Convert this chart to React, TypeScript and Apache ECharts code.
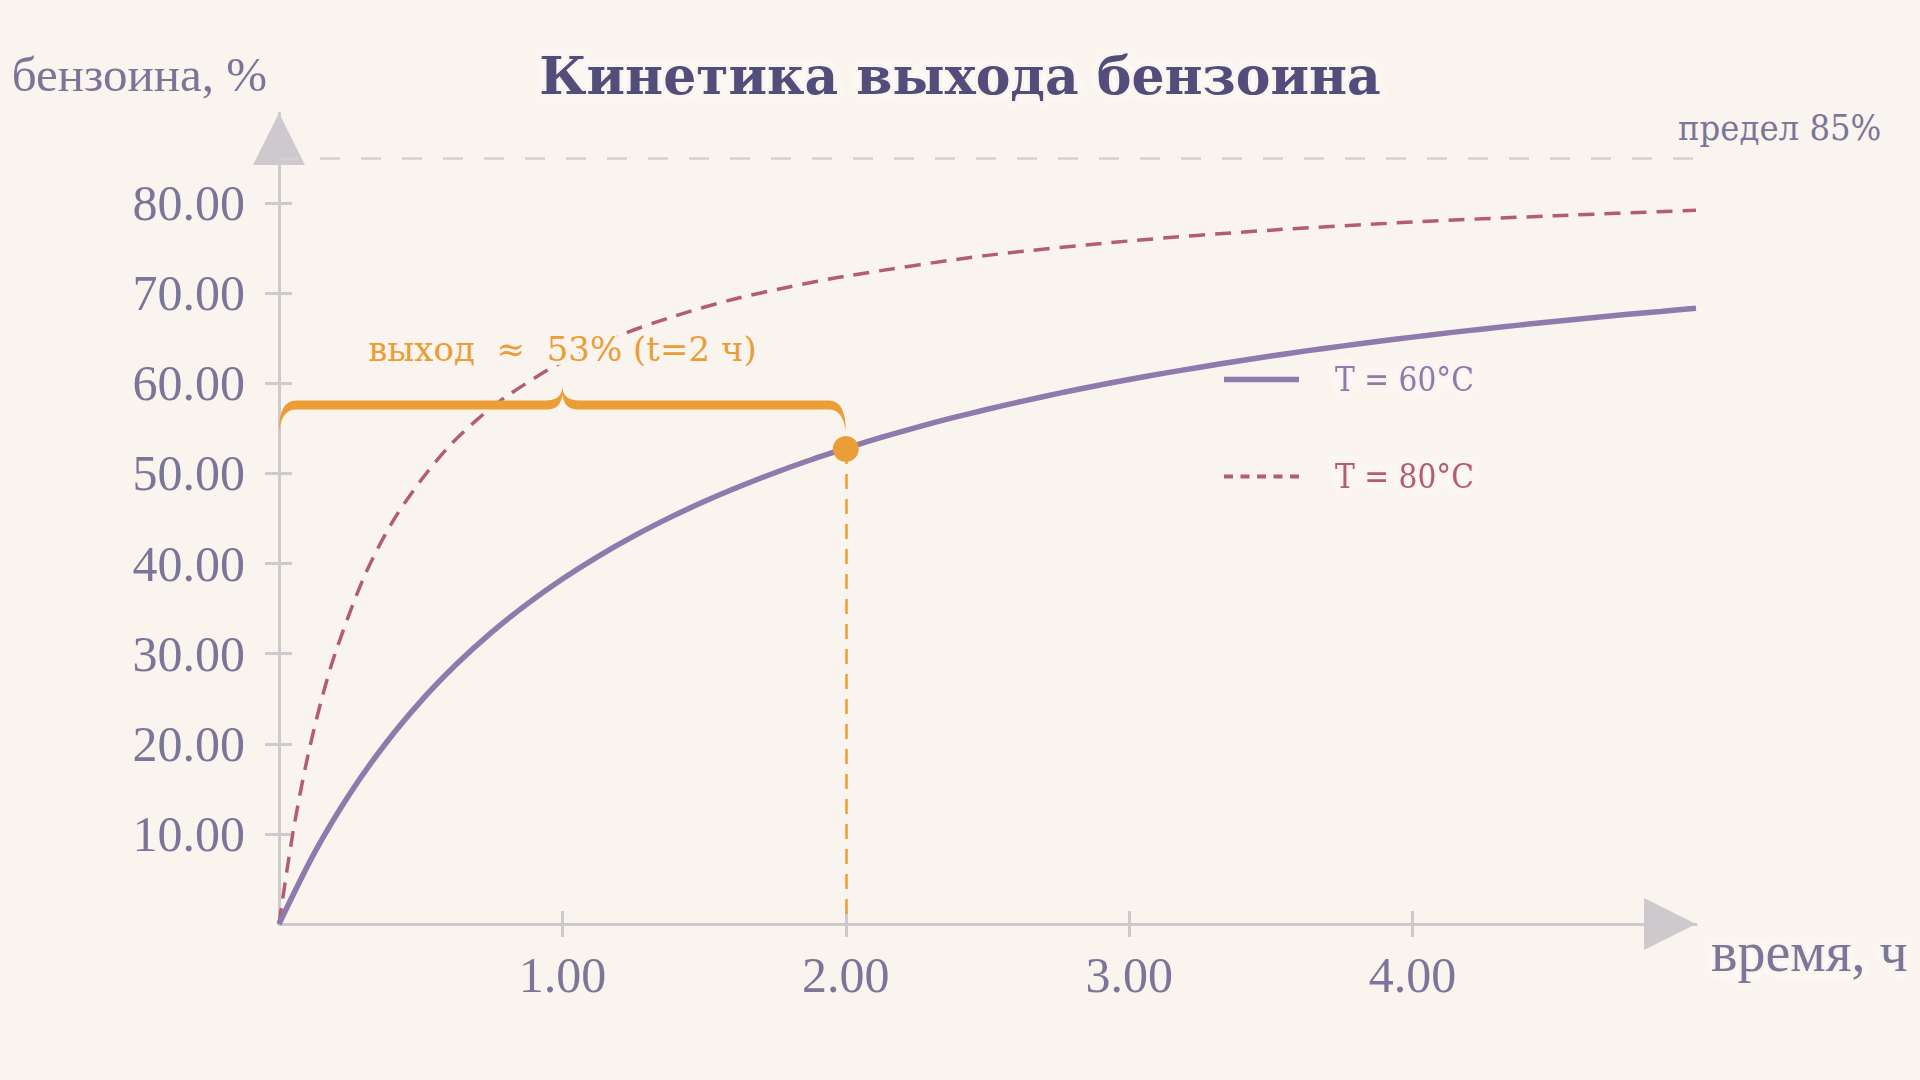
import React, { useEffect, useRef } from "react";
import * as echarts from "echarts";

// ---- data ----
const titleText = "Кинетика выхода бензоина";
const yAxisName = "бензоина, %";
const xAxisName = "время, ч";
const seriesNames = ["T = 60°C", "T = 80°C"];

const t60 = [0, 0.125, 0.25, 0.375, 0.5, 0.625, 0.75, 0.875, 1.0, 1.125, 1.25, 1.375, 1.5, 1.625, 1.75, 1.875, 2.0, 2.125, 2.25, 2.375, 2.5, 2.625, 2.75, 2.875, 3.0, 3.125, 3.25, 3.375, 3.5, 3.625, 3.75, 3.875, 4.0, 4.125, 4.25, 4.375, 4.5, 4.625, 4.75, 4.875, 5.0];
const y60 = [0, 7.9, 14.46, 19.98, 24.71, 28.79, 32.36, 35.5, 38.29, 40.78, 43.02, 45.04, 46.88, 48.55, 50.08, 51.49, 52.77, 53.99, 55.12, 56.16, 57.12, 58.03, 58.88, 59.68, 60.43, 61.13, 61.79, 62.43, 63.03, 63.6, 64.13, 64.65, 65.13, 65.6, 66.04, 66.46, 66.87, 67.26, 67.63, 67.98, 68.33];

const t80 = [0, 0.05, 0.1, 0.15, 0.2, 0.3, 0.4, 0.5, 0.6, 0.7, 0.8, 1.0, 1.2, 1.4, 1.6, 1.8, 2.0, 2.5, 3.0, 3.5, 4.0, 4.5, 5.0];
const y80 = [0, 10.3, 18.4, 24.9, 30.2, 38.5, 44.6, 49.2, 53.0, 56.0, 58.5, 62.4, 65.3, 67.5, 69.3, 70.7, 71.9, 74.2, 75.8, 77.0, 77.9, 78.6, 79.2];

const xTicks = [1, 2, 3, 4];
const yTicks = [10, 20, 30, 40, 50, 60, 70, 80];

const limitValue = 85;
const limitLabel = "предел 85%";
const markT = 2;
const markY = 52.7;
const braceFrom = 0;
const braceTo = 2;
const braceLevel = 57.6;
const annotationText = "выход  ≈  53% (t=2 ч)";

const xMin = 0, xMax = 5, xInterval = 1;
const yMin = 0, yMax = 90, yInterval = 10;

// ---- styles ----
const BG = "#faf4ee";
const C60 = "#8e7aad";
const C80 = "#b35c76";
const ORANGE = "#eb9d37";
const AXIS = "#cdc9cd";
const LABEL = "#7b7699";
const TITLE = "#524d7b";
const SERIF = "'Liberation Serif', 'Times New Roman', serif";
const DSERIF = "'DejaVu Serif', serif";
const DCOND = "'DejaVu Serif Condensed', 'DejaVu Serif', serif";

const ICON_SOLID = "path://M0,0 L75,0 L75,5.5 L0,5.5 Z";
const ICON_DASHED =
  "path://M0,0 L9,0 L9,4 L0,4 Z M16.5,0 L25.5,0 L25.5,4 L16.5,4 Z M33,0 L42,0 L42,4 L33,4 Z M49.5,0 L58.5,0 L58.5,4 L49.5,4 Z M66,0 L75,0 L75,4 L66,4 Z";

function bracePath(x0: number, x1: number, y: number) {
  const T = 9;
  const yt = y - T / 2;
  const yb = y + T / 2;
  const xm = (x0 + x1) / 2;
  const drop = 26;
  const peak = 19;
  const r = 17;
  return [
    `M ${x0} ${y + drop}`,
    `Q ${x0} ${yt} ${x0 + r} ${yt}`,
    `L ${xm - r} ${yt}`,
    `Q ${xm} ${yt} ${xm} ${y - peak}`,
    `Q ${xm} ${yt} ${xm + r} ${yt}`,
    `L ${x1 - r} ${yt}`,
    `Q ${x1} ${yt} ${x1} ${y + drop}`,
    `Q ${x1 - 3} ${yb} ${x1 - r} ${yb}`,
    `L ${xm + r - 2} ${yb}`,
    `Q ${xm + 2} ${yb} ${xm} ${y - peak + 9}`,
    `Q ${xm - 2} ${yb} ${xm - r + 2} ${yb}`,
    `L ${x0 + r} ${yb}`,
    `Q ${x0 + 3} ${yb} ${x0} ${y + drop}`,
    "Z",
  ].join(" ");
}

export default function App() {
  const ref = useRef<HTMLDivElement>(null);
  useEffect(() => {
    if (!ref.current) return;
    document.body.style.background = BG;
    const chart = echarts.init(ref.current, undefined, { renderer: "svg" });
    const halo = { textBorderColor: BG, textBorderWidth: 6, textShadowColor: "rgba(255,255,255,0.7)", textShadowBlur: 10 };
    const axisBase = (type: "x" | "y") => ({
      type: "value" as const,
      min: type === "x" ? xMin : yMin,
      max: type === "x" ? xMax : yMax,
      interval: type === "x" ? xInterval : yInterval,
      splitLine: { show: false },
    });
    chart.setOption({
      animation: false,
      backgroundColor: BG,
      title: {
        text: titleText,
        left: "center",
        top: 36,
        textStyle: { fontFamily: DSERIF, fontWeight: "bold", fontSize: 52, color: TITLE, ...halo },
      },
      legend: {
        orient: "vertical",
        left: 1211,
        top: 347,
        itemWidth: 75,
        itemHeight: 6,
        itemGap: 58,
        textStyle: { fontFamily: DCOND, fontSize: 33, padding: [0, 0, 0, 31], ...halo },
        data: [
          { name: seriesNames[0], icon: ICON_SOLID, textStyle: { color: C60 } },
          { name: seriesNames[1], icon: ICON_DASHED, textStyle: { color: C80 } },
        ],
      },
      grid: { left: 271, right: 216, top: 105, bottom: 148, outerBoundsMode: "none" },
      xAxis: [
        {
          ...axisBase("x"),
          position: "bottom",
          name: xAxisName,
          nameLocation: "end",
          nameGap: 15,
          nameTextStyle: { fontFamily: SERIF, fontSize: 56, color: LABEL, verticalAlign: "top", padding: [0, 0, 0, 0], ...halo },
          axisLine: { show: true, lineStyle: { color: AXIS, width: 3 }, symbol: ["none", "triangle"], symbolSize: [52, 52], symbolOffset: [0, -26] },
          axisTick: { show: true, inside: false, length: 13, customValues: xTicks, lineStyle: { color: AXIS, width: 3 } },
          axisLabel: {
            show: true, margin: 26, color: LABEL, fontFamily: SERIF, fontSize: 50,
            customValues: xTicks,
            formatter: (v: number) => v.toFixed(2),
          },
        },
        {
          ...axisBase("x"),
          position: "bottom",
          axisLine: { show: false },
          axisTick: { show: true, inside: true, length: 13, customValues: xTicks, lineStyle: { color: AXIS, width: 3 } },
          axisLabel: { show: false },
        },
      ],
      yAxis: [
        {
          ...axisBase("y"),
          position: "left",
          name: yAxisName,
          nameLocation: "end",
          nameGap: 14,
          nameTextStyle: { fontFamily: SERIF, fontSize: 49, color: LABEL, align: "right", padding: [0, 12, 0, 0] },
          axisLine: { show: true, lineStyle: { color: AXIS, width: 3 }, symbol: ["none", "triangle"], symbolSize: [52, 52], symbolOffset: [0, -26] },
          axisTick: { show: true, inside: false, length: 14, customValues: yTicks, lineStyle: { color: AXIS, width: 3 } },
          axisLabel: {
            show: true, margin: 34, color: LABEL, fontFamily: SERIF, fontSize: 50,
            customValues: yTicks,
            formatter: (v: number) => v.toFixed(2),
          },
        },
        {
          ...axisBase("y"),
          position: "left",
          axisLine: { show: false },
          axisTick: { show: true, inside: true, length: 13, customValues: yTicks, lineStyle: { color: AXIS, width: 3 } },
          axisLabel: { show: false },
        },
      ],
      series: [
        {
          name: seriesNames[0],
          type: "line",
          data: t60.map((t, i) => [t, y60[i]]),
          smooth: 0.3,
          symbol: "none",
          lineStyle: { color: C60, width: 5.5 },
          itemStyle: { color: C60 },
          z: 3,
          markLine: {
            silent: true,
            symbol: "none",
            label: { show: false },
            lineStyle: { color: "#d5d0d2", width: 2.5, type: [20, 21] },
            data: [[{ coord: [xMin, limitValue] }, { coord: [xMax, limitValue] }]],
          },
        },
        {
          name: seriesNames[1],
          type: "line",
          data: t80.map((t, i) => [t, y80[i]]),
          smooth: 0.3,
          symbol: "none",
          lineStyle: { color: C80, width: 3.5, type: [16, 10] },
          itemStyle: { color: C80 },
          z: 2,
        },
        {
          type: "scatter",
          data: [[markT, markY]],
          symbolSize: 26,
          itemStyle: { color: ORANGE, opacity: 1 },
          z: 5,
          markLine: {
            silent: true,
            symbol: "none",
            label: { show: false },
            lineStyle: { color: ORANGE, width: 2.5, type: [15, 10] },
            data: [[{ coord: [markT, markY] }, { coord: [markT, 0] }]],
          },
        },
        {
          type: "custom",
          silent: true,
          z: 6,
          data: [[braceFrom, braceLevel, braceTo]],
          renderItem: (params: any, api: any) => {
            const p0 = api.coord([api.value(0), api.value(1)]);
            const p1 = api.coord([api.value(2), api.value(1)]);
            const xm = (p0[0] + p1[0]) / 2;
            return {
              type: "group",
              children: [
                {
                  type: "path",
                  shape: { pathData: bracePath(p0[0], p1[0], p0[1]) },
                  style: { fill: ORANGE, stroke: null },
                },
                {
                  type: "text",
                  x: xm,
                  y: p0[1] - 56,
                  style: {
                    text: annotationText,
                    fill: ORANGE,
                    fontFamily: DSERIF,
                    fontSize: 34,
                    align: "center",
                    verticalAlign: "middle",
                    stroke: BG,
                    lineWidth: 8,
                    shadowBlur: 10,
                    shadowColor: "rgba(255,255,255,0.8)",
                  },
                },
              ],
            };
          },
        },
        {
          type: "custom",
          silent: true,
          z: 6,
          data: [[xMax, limitValue]],
          renderItem: (params: any, api: any) => {
            const p = api.coord([api.value(0), api.value(1)]);
            return {
              type: "text",
              x: p[0] - 18,
              y: p[1] - 31,
              style: {
                text: limitLabel,
                fill: LABEL,
                fontFamily: DCOND,
                fontSize: 36,
                align: "left",
                verticalAlign: "middle",
                stroke: BG,
                lineWidth: 6,
              },
            };
          },
        },
      ],
    });
    return () => chart.dispose();
  }, []);
  return <div ref={ref} style={{ width: 1904, height: 1064 }} />;
}
